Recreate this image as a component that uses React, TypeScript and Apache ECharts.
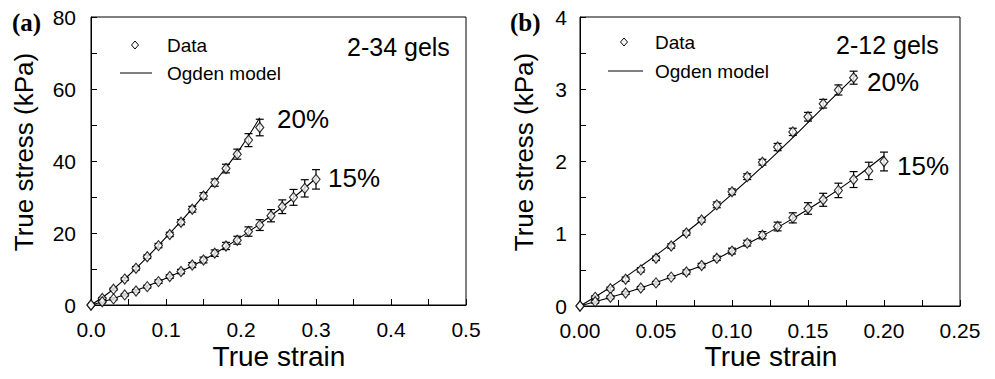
import React, { useEffect, useRef } from "react";
import * as echarts from "echarts";

// ---------- Panel (a): 2-34 gels ----------
const strainA20 = [0, 0.015, 0.03, 0.045, 0.06, 0.075, 0.09, 0.105, 0.12, 0.135, 0.15, 0.165, 0.18, 0.195, 0.21, 0.225];
const stressA20 = [0, 1.8, 4.4, 7.2, 10.2, 13.4, 16.5, 19.6, 23.0, 26.6, 30.3, 34.0, 37.9, 41.9, 45.8, 49.3];
const errA20 = [0, 0.3, 0.3, 0.4, 0.5, 0.5, 0.6, 0.6, 0.7, 0.8, 0.9, 1.0, 1.2, 1.4, 1.8, 2.3];

const strainA15 = [0, 0.015, 0.03, 0.045, 0.06, 0.075, 0.09, 0.105, 0.12, 0.135, 0.15, 0.165, 0.18, 0.195, 0.21, 0.225, 0.24, 0.255, 0.27, 0.285, 0.3];
const stressA15 = [0, 0.9, 1.7, 2.8, 3.9, 5.1, 6.5, 7.9, 9.3, 11.1, 12.5, 14.4, 16.4, 18.0, 20.4, 22.2, 24.8, 27.3, 29.9, 32.4, 34.9];
const errA15 = [0, 0.3, 0.3, 0.3, 0.4, 0.4, 0.5, 0.5, 0.6, 0.7, 0.8, 0.9, 1.0, 1.1, 1.3, 1.5, 1.7, 1.9, 2.2, 2.4, 2.7];

const modelStrainA20 = [0, 0.025, 0.05, 0.075, 0.1, 0.125, 0.15, 0.175, 0.2, 0.225];
const modelStressA20 = [0, 3.6, 8.2, 13.3, 18.8, 24.4, 30.4, 36.8, 43.8, 52.0];
const modelStrainA15 = [0, 0.03, 0.06, 0.09, 0.12, 0.15, 0.18, 0.21, 0.24, 0.27, 0.3];
const modelStressA15 = [0, 1.8, 4.0, 6.5, 9.3, 12.5, 16.2, 20.3, 24.8, 29.8, 35.2];

// ---------- Panel (b): 2-12 gels ----------
const strainB20 = [0, 0.01, 0.02, 0.03, 0.04, 0.05, 0.06, 0.07, 0.08, 0.09, 0.1, 0.11, 0.12, 0.13, 0.14, 0.15, 0.16, 0.17, 0.18];
const stressB20 = [0, 0.12, 0.24, 0.37, 0.5, 0.66, 0.83, 1.01, 1.19, 1.4, 1.58, 1.79, 1.99, 2.2, 2.41, 2.62, 2.8, 2.99, 3.16];
const errB20 = [0, 0.02, 0.02, 0.03, 0.03, 0.03, 0.03, 0.03, 0.03, 0.04, 0.04, 0.04, 0.04, 0.05, 0.05, 0.06, 0.06, 0.07, 0.09];

const strainB15 = [0, 0.01, 0.02, 0.03, 0.04, 0.05, 0.06, 0.07, 0.08, 0.09, 0.1, 0.11, 0.12, 0.13, 0.14, 0.15, 0.16, 0.17, 0.18, 0.19, 0.2];
const stressB15 = [0, 0.06, 0.12, 0.18, 0.25, 0.32, 0.4, 0.47, 0.56, 0.66, 0.76, 0.87, 0.98, 1.1, 1.22, 1.35, 1.47, 1.6, 1.75, 1.87, 2.0];
const errB15 = [0, 0.02, 0.02, 0.02, 0.02, 0.02, 0.02, 0.03, 0.03, 0.03, 0.04, 0.04, 0.05, 0.06, 0.07, 0.08, 0.09, 0.1, 0.11, 0.12, 0.13];

const modelStrainB20 = [0, 0.02, 0.04, 0.06, 0.08, 0.1, 0.12, 0.14, 0.16, 0.18, 0.182];
const modelStressB20 = [0, 0.26, 0.55, 0.86, 1.19, 1.55, 1.93, 2.33, 2.75, 3.16, 3.2];
const modelStrainB15 = [0, 0.02, 0.04, 0.06, 0.08, 0.1, 0.12, 0.14, 0.16, 0.18, 0.2];
const modelStressB15 = [0, 0.12, 0.25, 0.4, 0.56, 0.76, 0.97, 1.21, 1.47, 1.76, 2.08];

const ticksA_X = [0, 0.1, 0.2, 0.3, 0.4, 0.5];
const ticksA_Y = [0, 20, 40, 60, 80];
const ticksB_X = [0, 0.05, 0.1, 0.15, 0.2, 0.25];
const ticksB_Y = [0, 1, 2, 3, 4];

const FONT = "'Liberation Sans', Arial, sans-serif";
const SERIF = "'Liberation Serif', 'Times New Roman', serif";

const zip = (xs: number[], ys: number[]) => xs.map((x, i) => [x, ys[i]]);
const zip3 = (xs: number[], ys: number[], es: number[]) => xs.map((x, i) => [x, ys[i], es[i]]);

const errRender = (params: any, api: any) => {
  const x = api.value(0);
  const y = api.value(1);
  const e = api.value(2);
  if (!e) return { type: "group", children: [] };
  const t = api.coord([x, y + e]);
  const b = api.coord([x, y - e]);
  const h = 4;
  const st = { stroke: "#000", lineWidth: 1.2 };
  return {
    type: "group",
    children: [
      { type: "line", shape: { x1: t[0], y1: t[1], x2: b[0], y2: b[1] }, style: st },
      { type: "line", shape: { x1: t[0] - h, y1: t[1], x2: t[0] + h, y2: t[1] }, style: st },
      { type: "line", shape: { x1: b[0] - h, y1: b[1], x2: b[0] + h, y2: b[1] }, style: st },
    ],
  };
};

export default function App() {
  const ref = useRef<HTMLDivElement>(null);
  useEffect(() => {
    if (!ref.current) return;
    const chart = echarts.init(ref.current, null, { renderer: "svg" });

    const xAxisBase = (min: number, max: number, interval: number, dec: number, labels: number[], gridIndex: number) => ({
      type: "value",
      gridIndex,
      min,
      max,
      interval,
      axisLine: { show: true, onZero: false, lineStyle: { color: "#000", width: 1 } },
      axisTick: { show: true, inside: true, length: 6, lineStyle: { color: "#000" } },
      minorTick: { show: true, splitNumber: 2, length: 6, lineStyle: { color: "#000" } },
      splitLine: { show: false },
      axisLabel: {
        color: "#000",
        fontFamily: FONT,
        fontSize: 21,
        margin: 14,
        formatter: (v: number) => {
          const hit = labels.find((l) => Math.abs(l - v) < 1e-9);
          return hit === undefined ? "" : hit.toFixed(dec);
        },
      },
    });
    const yAxisBase = (min: number, max: number, interval: number, labels: number[], gridIndex: number, margin: number) => ({
      type: "value",
      gridIndex,
      min,
      max,
      interval,
      axisLine: { show: true, onZero: false, lineStyle: { color: "#000", width: 1 } },
      axisTick: { show: true, inside: true, length: 6, lineStyle: { color: "#000" } },
      minorTick: { show: true, splitNumber: 2, length: 6, lineStyle: { color: "#000" } },
      splitLine: { show: false },
      axisLabel: {
        color: "#000",
        fontFamily: FONT,
        fontSize: 21,
        margin,
        formatter: (v: number) => {
          const hit = labels.find((l) => Math.abs(l - v) < 1e-9);
          return hit === undefined ? "" : String(hit);
        },
      },
    });

    const lineSeries = (data: number[][], xi: number) => ({
      type: "line",
      xAxisIndex: xi,
      yAxisIndex: xi,
      data,
      smooth: 0.4,
      showSymbol: false,
      symbol: "none",
      lineStyle: { color: "#000", width: 1.1 },
      z: 2,
      silent: true,
    });
    const errSeries = (data: number[][], xi: number) => ({
      type: "custom",
      xAxisIndex: xi,
      yAxisIndex: xi,
      data,
      renderItem: errRender,
      z: 3,
      silent: true,
    });
    const dotSeries = (data: number[][], xi: number) => ({
      type: "scatter",
      xAxisIndex: xi,
      yAxisIndex: xi,
      data,
      symbol: "diamond",
      symbolSize: [8, 10],
      itemStyle: { color: "#fff", borderColor: "#000", borderWidth: 1.2 },
      z: 4,
      silent: true,
    });

    const txt = (text: string, x: number, y: number, size: number, extra: any = {}) => ({
      type: "text",
      x,
      y,
      ...(extra.rotation !== undefined ? { rotation: extra.rotation } : {}),
      style: {
        text,
        fontFamily: extra.family || FONT,
        fontSize: size,
        fontWeight: extra.weight || "normal",
        fill: "#000",
        align: extra.align || "left",
        verticalAlign: "middle",
      },
      z: 10,
    });
    const diamond = (cx: number, cy: number) => ({
      type: "polygon",
      shape: { points: [[cx, cy - 4], [cx + 3.5, cy], [cx, cy + 4], [cx - 3.5, cy]] },
      style: { fill: "#fff", stroke: "#000", lineWidth: 1 },
      z: 10,
    });
    const hline = (x1: number, x2: number, y: number) => ({
      type: "line",
      shape: { x1, y1: y, x2, y2: y },
      style: { stroke: "#000", lineWidth: 1 },
      z: 10,
    });

    chart.setOption({
      animation: false,
      backgroundColor: "#fff",
      grid: [
        { left: 91, top: 17, width: 375, height: 288, show: true, borderColor: "#000", borderWidth: 1, backgroundColor: "transparent" },
        { left: 580, top: 17, width: 380, height: 289, show: true, borderColor: "#000", borderWidth: 1, backgroundColor: "transparent" },
      ],
      xAxis: [xAxisBase(0, 0.5, 0.1, 1, ticksA_X, 0), xAxisBase(0, 0.25, 0.05, 2, ticksB_X, 1)],
      yAxis: [yAxisBase(0, 80, 20, ticksA_Y, 0, 15), yAxisBase(0, 4, 1, ticksB_Y, 1, 13)],
      series: [
        lineSeries(zip(modelStrainA20, modelStressA20), 0),
        lineSeries(zip(modelStrainA15, modelStressA15), 0),
        errSeries(zip3(strainA20, stressA20, errA20), 0),
        errSeries(zip3(strainA15, stressA15, errA15), 0),
        dotSeries(zip(strainA20, stressA20), 0),
        dotSeries(zip(strainA15, stressA15), 0),
        lineSeries(zip(modelStrainB20, modelStressB20), 1),
        lineSeries(zip(modelStrainB15, modelStressB15), 1),
        errSeries(zip3(strainB20, stressB20, errB20), 1),
        errSeries(zip3(strainB15, stressB15, errB15), 1),
        dotSeries(zip(strainB20, stressB20), 1),
        dotSeries(zip(strainB15, stressB15), 1),
      ],
      graphic: [
        txt("(a)", 12, 22, 25, { family: SERIF, weight: "bold" }),
        txt("(b)", 510, 22, 25, { family: SERIF, weight: "bold" }),
        txt("True stress (kPa)", 24, 152, 26, { rotation: Math.PI / 2, align: "center" }),
        txt("True stress (kPa)", 524, 152, 26, { rotation: Math.PI / 2, align: "center" }),
        txt("True strain", 279, 356, 28, { align: "center" }),
        txt("True strain", 771, 356, 28, { align: "center" }),
        diamond(135, 45),
        txt("Data", 167, 45, 19),
        hline(120, 152, 73),
        txt("Ogden model", 167, 73, 19),
        txt("2-34 gels", 347, 47, 25),
        txt("20%", 277, 119, 26),
        txt("15%", 328, 178, 26),
        diamond(624, 42),
        txt("Data", 655, 42, 19),
        hline(608, 643, 71),
        txt("Ogden model", 655, 71, 19),
        txt("2-12 gels", 836, 45, 25),
        txt("20%", 867, 82, 26),
        txt("15%", 897, 166, 26),
      ],
    });
    return () => chart.dispose();
  }, []);
  return <div ref={ref} style={{ position: "fixed", left: 0, top: 0, width: 995, height: 379 }} />;
}
